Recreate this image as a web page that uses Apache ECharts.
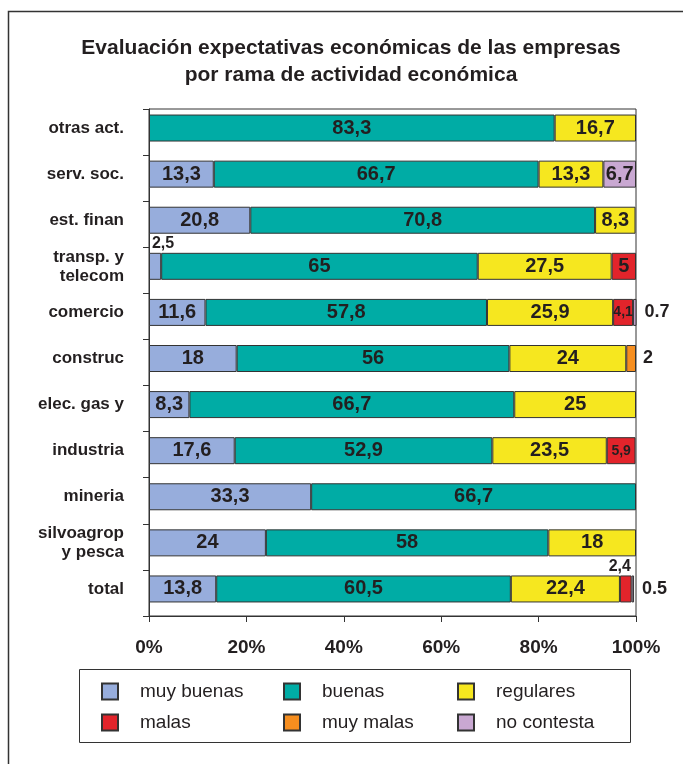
<!DOCTYPE html>
<html><head><meta charset="utf-8">
<script src="https://cdn.jsdelivr.net/npm/echarts@6/dist/echarts.min.js"></script>
<style>html,body{margin:0;padding:0;background:#fff}#c{width:683px;height:764px}</style>
</head><body><div id="c"></div>
<script>
const categories = ['otras act.','serv. soc.','est. finan','transp. y\ntelecom','comercio','construc','elec. gas y','industria','mineria','silvoagrop\ny pesca','total'];
const xTicks = [0,20,40,60,80,100];
const muyBuenas  = [0,13.3,20.8,2.5,11.6,18,8.3,17.6,33.3,24,13.8];
const buenas     = [83.3,66.7,70.8,65,57.8,56,66.7,52.9,66.7,58,60.5];
const regulares  = [16.7,13.3,8.3,27.5,25.9,24,25,23.5,0,18,22.4];
const malas      = [0,0,0,5,4.1,0,0,5.9,0,0,2.4];
const muyMalas   = [0,0,0,0,0,2,0,0,0,0,0];
const noContesta = [0,6.7,0,0,0.7,0,0,0,0,0,0.5];

const FONT = '"Liberation Sans", Arial, Helvetica, sans-serif';
const TXT = '#231F20';
const seriesDefs = [
  {name:'muy buenas', values:muyBuenas, color:'#97ADDC'},
  {name:'buenas', values:buenas, color:'#00ACA5'},
  {name:'regulares', values:regulares, color:'#F6E71F'},
  {name:'malas', values:malas, color:'#E2242B'},
  {name:'muy malas', values:muyMalas, color:'#F68E1F'},
  {name:'no contesta', values:noContesta, color:'#C9A8D2'}
];
const comma = v => String(v).replace('.', ',');
// label tweaks for narrow segments
const overrides = {
  'muy buenas|3': {position:'top', distance:1, offset:[8,0], fontSize:16},
  'malas|4': {fontSize:14},
  'malas|7': {fontSize:14},
  'malas|10': {position:'top', distance:1, offset:[-6,0], fontSize:16},
  'no contesta|4': {position:'right', distance:8, fontSize:18, formatter:'0.7'},
  'muy malas|5': {position:'right', distance:7, fontSize:18, formatter:'2'},
  'no contesta|10': {position:'right', distance:8, fontSize:18, formatter:'0.5'}
};

const series = seriesDefs.map(s => ({
  name: s.name, type:'bar', stack:'all', xAxisIndex:0, yAxisIndex:0,
  barWidth: 27,
  itemStyle:{color:s.color, borderColor:'#333', borderWidth:1},
  label:{show:true, position:'inside', color:TXT, fontFamily:FONT, fontWeight:'bold', fontSize:20,
         formatter: p => comma(p.value)},
  data: s.values.map((v,i) => {
    if (!v) return '-';
    const o = overrides[s.name+'|'+i];
    return o ? {value:v, label:o} : v;
  })
}));

const legendCommon = {orient:'vertical', top:682, padding:0, itemWidth:16, itemHeight:16, itemGap:12,
  icon:'rect', textStyle:{fontFamily:FONT, fontSize:19, color:TXT, padding:[0,0,0,17]}};

const chart = echarts.init(document.getElementById('c'), null, {renderer:'canvas'});
chart.setOption({
  animation:false,
  backgroundColor:'#fff',
  title:{text:'Evaluación expectativas económicas de las empresas\npor rama de actividad económica',
    left:351, top:35, textAlign:'center', padding:0,
    textStyle:{fontFamily:FONT, fontSize:21, fontWeight:'bold', color:TXT, lineHeight:27}},
  graphic:[
    {type:'rect', shape:{x:8.5, y:11.5, width:720, height:800}, style:{fill:'none', stroke:'#333', lineWidth:1.5}, silent:true, z:-1},
    {type:'rect', shape:{x:79.5, y:669.5, width:551, height:73}, style:{fill:'none', stroke:'#333', lineWidth:1}, silent:true}
  ],
  legend:[
    Object.assign({left:101, data:['muy buenas','malas']}, legendCommon),
    Object.assign({left:283, data:['buenas','muy malas']}, legendCommon),
    Object.assign({left:457, data:['regulares','no contesta']}, legendCommon)
  ],
  grid:[
    {left:149, right:47, top:105, bottom:152},
    {left:149, right:47, top:109, bottom:148, show:true, borderColor:'#333', borderWidth:1, backgroundColor:'transparent'}
  ],
  xAxis:[
    {type:'value', gridIndex:0, min:0, max:100, show:false},
    {type:'value', gridIndex:1, min:0, max:100, interval:20,
     axisLine:{show:true, lineStyle:{color:'#333', width:1}},
     axisTick:{show:true, length:6, lineStyle:{color:'#333'}},
     splitLine:{show:false},
     axisLabel:{formatter: v => (xTicks.indexOf(v) >= 0 ? v + '%' : ''), margin:22,
       fontFamily:FONT, fontSize:19, fontWeight:'bold', color:TXT}}
  ],
  yAxis:[
    {type:'category', gridIndex:0, data:categories, inverse:true,
     axisLine:{show:false}, axisTick:{show:false},
     axisLabel:{margin:25, fontFamily:FONT, fontSize:17, fontWeight:'bold', color:TXT, lineHeight:19}},
    {type:'category', gridIndex:1, data:categories, inverse:true,
     axisLine:{show:true, lineStyle:{color:'#333', width:1}},
     axisTick:{show:true, length:6, lineStyle:{color:'#333'}},
     axisLabel:{show:false}}
  ],
  series: series
});
</script></body></html>
